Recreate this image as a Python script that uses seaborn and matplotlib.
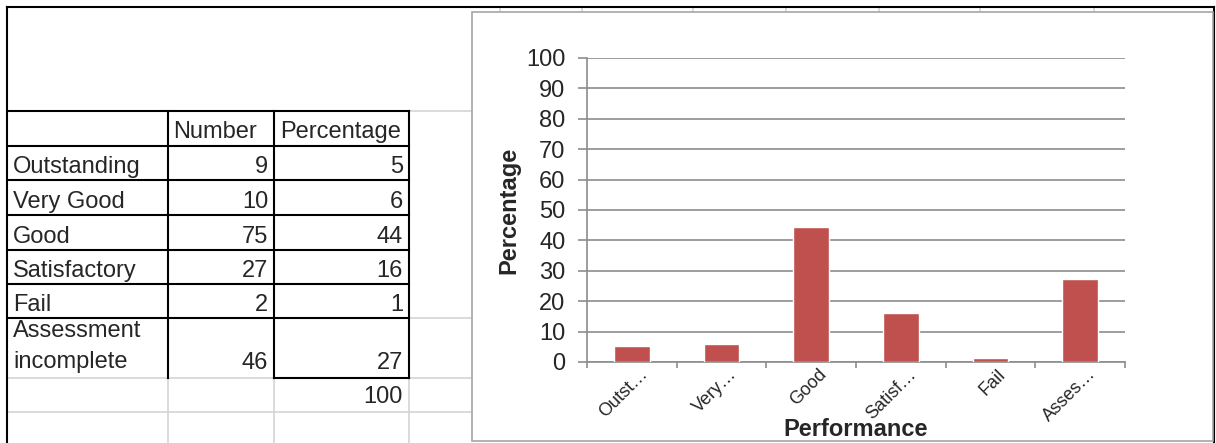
import matplotlib
matplotlib.use("Agg")
import matplotlib.pyplot as plt
import pandas as pd
import seaborn as sns
from matplotlib.patches import Rectangle
from matplotlib.transforms import ScaledTranslation

W, H = 1216, 443

categories = ["Outstanding", "Very Good", "Good", "Satisfactory", "Fail", "Assessment\nincomplete"]
tick_labels = ["Outst…", "Very…", "Good", "Satisf…", "Fail", "Asses…"]
numbers = [9, 10, 75, 27, 2, 46]
percent_table = [5, 6, 44, 16, 1, 27]
percent_bars = [5.3, 5.9, 44.4, 16.0, 1.2, 27.2]
total_label = "100"

BAR = "#c0504d"
GRID = "#8c8c8c"
CELL = "#d4d4d4"

sns.set_style("white")
plt.rcParams["font.family"] = ["Liberation Sans", "DejaVu Sans"]

fig = plt.figure(figsize=(W / 100, H / 100), dpi=100)

# background layer in pixel coordinates: sheet grid, table, frames
bg = fig.add_axes([0, 0, 1, 1], zorder=0)
bg.set_xlim(0, W)
bg.set_ylim(H, 0)
bg.axis("off")


def hline(y, x0, x1, color="black", lw=1.5):
    bg.plot([x0, x1], [y, y], color=color, lw=lw, solid_capstyle="projecting")


def vline(x, y0, y1, color="black", lw=1.5):
    bg.plot([x, x], [y0, y1], color=color, lw=lw, solid_capstyle="projecting")


cols = [8, 168, 274, 409]
rows = [111, 146, 180, 215, 250, 284, 318, 378, 412]

# light spreadsheet gridlines
for y in [111, 318, 378, 412]:
    hline(y, 409, 472, CELL, 1.2)
hline(378, 8, 274, CELL, 1.2)
hline(412, 8, 409, CELL, 1.2)
for x in cols[1:]:
    vline(x, 378, H, CELL, 1.2)
for x in [500, 582, 693, 786, 879, 980, 1094]:
    vline(x, 7, 12, CELL, 1.2)

# table borders
for y in rows[:7]:
    hline(y, 8, 409)
hline(378, 274, 409)
for x in cols[1:]:
    vline(x, 111, 378)

# outer frame
hline(7, 7, 1214)
vline(7, 7, H)
vline(1214, 7, H)

FS = 17
bg.text(173, 138, "Number", fontsize=FS, va="baseline", ha="left")
bg.text(280, 138, "Percentage", fontsize=FS, va="baseline", ha="left")
for i, (cat, num, pct) in enumerate(zip(categories, numbers, percent_table)):
    if "\n" in cat:
        first, second = cat.split("\n")
        bg.text(13, 337, first, fontsize=FS, va="baseline", ha="left")
        bg.text(13, 368, second, fontsize=FS, va="baseline", ha="left")
        base = 369
    else:
        base = rows[i + 2] - 7
        bg.text(13, base, cat, fontsize=FS, va="baseline", ha="left")
    bg.text(268, base, str(num), fontsize=FS, va="baseline", ha="right")
    bg.text(403, base, str(pct), fontsize=FS, va="baseline", ha="right")
bg.text(403, 403, total_label, fontsize=FS, va="baseline", ha="right")

# chart frame
bg.add_patch(Rectangle((472, 12), 1213 - 472, 441 - 12, facecolor="white",
                       edgecolor="#a6a6a6", lw=1.2, zorder=3))

# chart plot area
x0, x1, y0, y1 = 587, 1125, 58, 362
ax = fig.add_axes([x0 / W, (H - y1) / H, (x1 - x0) / W, (y1 - y0) / H], zorder=2)
ax.patch.set_alpha(0)

df = pd.DataFrame({"Performance": tick_labels, "Percentage": percent_bars})
sns.barplot(data=df, x="Performance", y="Percentage", color=BAR, saturation=1,
            width=0.4, ax=ax, zorder=3)

ax.set_ylim(0, 100)
ax.set_yticks(range(0, 101, 10))
ax.set_xlim(-0.5, len(tick_labels) - 0.5)
ax.set_xticks([i - 0.5 for i in range(len(tick_labels) + 1)], minor=True)
ax.grid(axis="y", color=GRID, lw=1.2, zorder=0)
ax.set_axisbelow(True)
for side in ["top", "right"]:
    ax.spines[side].set_visible(False)
for side in ["left", "bottom"]:
    ax.spines[side].set_color(GRID)
    ax.spines[side].set_linewidth(1.2)

ax.tick_params(axis="y", length=6.5, width=1.2, color=GRID, labelsize=17, pad=9,
               left=True, direction="out")
ax.tick_params(axis="x", which="major", length=0, labelsize=13, pad=7)
ax.tick_params(axis="x", which="minor", length=4.5, width=1.2, color=GRID,
               bottom=True, direction="out")
ax.set_xticks(range(len(tick_labels)))
ax.set_xticklabels(tick_labels, rotation=45, ha="right", va="center",
                   rotation_mode="anchor")
shift = ScaledTranslation(13 / 100, 0, fig.dpi_scale_trans)
for lab in ax.get_xticklabels():
    lab.set_transform(lab.get_transform() + shift)

ax.set_xlabel("Performance", fontsize=17, fontweight="bold")
ax.set_ylabel("Percentage", fontsize=17, fontweight="bold")
ax.xaxis.set_label_coords(0.5, -0.184)
ax.yaxis.set_label_coords(-0.123, 0.5)

fig.savefig("out.png", dpi=100)
